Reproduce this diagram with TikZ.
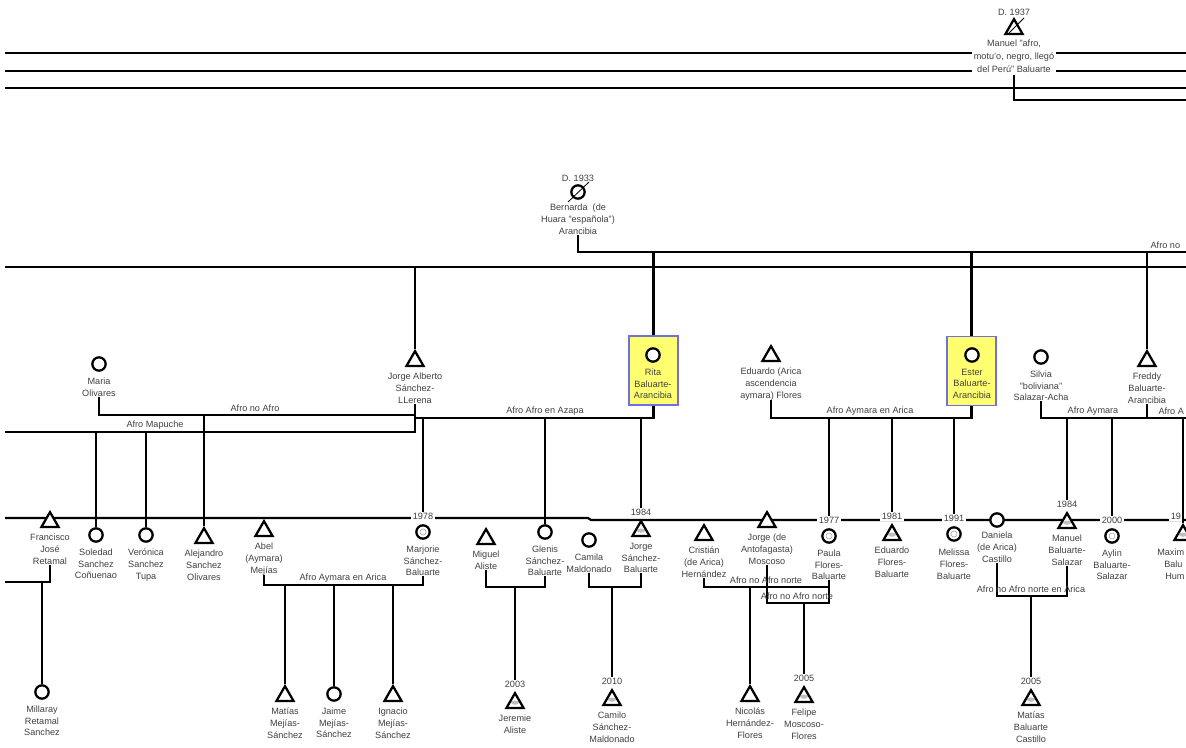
\documentclass[tikz,border=0pt]{standalone}
\usepackage{fontspec}
\setmainfont{Liberation Sans}
\usetikzlibrary{positioning,shapes.geometric}
\definecolor{hlfill}{RGB}{255,255,112}
\definecolor{hlline}{RGB}{112,112,230}

\begin{document}
\begin{tikzpicture}[x=0.025cm,y=-0.025cm,
    fem/.style={circle,draw,fill=white,line width=1.6pt,minimum size=9.5pt,inner sep=0pt},
    mal/.style={regular polygon,regular polygon sides=3,draw,fill=white,line width=1.6pt,minimum size=14pt,inner sep=0pt},
    agef/.style={fem,path picture={\draw[black!45,line width=.3pt] (path picture bounding box.center) circle[radius=2.2pt];}},
    agem/.style={mal,path picture={\fill[black!25] ([yshift=-1.5pt]path picture bounding box.center) ellipse[x radius=2.8pt,y radius=1.5pt];}},
    nm/.style={font=\fontsize{6.5}{8.4}\selectfont,align=center,inner sep=0pt,text=black!75},
    yr/.style={nm,fill=white,inner sep=1pt},
    ln/.style={line width=1.5pt},
    dead/.style={line width=.6pt},
    hl/.style={draw=hlline,fill=hlfill,line width=1pt,minimum width=1.22cm,minimum height=1.72cm,inner sep=0pt}]

    \useasboundingbox (0,0) rectangle (1186,748);
    \clip (0,0) rectangle (1186,748);

    % lines running off the sheet
    \draw[ln] (5,53) -- (1186,53);
    \draw[line width=1pt] (5,71) -- (1186,71);
    \draw[ln] (5,88) -- (1186,88);
    \draw[ln] (5,267) -- (1186,267);
    \draw[ln] (5,518) -- (588,518) -- (591,520) -- (1186,520);
    \coordinate (gen) at (5,267);
    \coordinate (mapW) at (5,432);

    % oldest generation
    \node[mal] (manu) at (1014,29) {};
    \node[nm,above=1pt] at (manu.north) {D. 1937};
    \node[nm,fill=white,inner sep=1.5pt,below=2pt,font=\fontsize{6.5}{9}\selectfont] (manuL) at (manu.south) {Manuel "afro,\\motu'o, negro, llegó\\del Perú" Baluarte};
    \node[fem] (bern) at (578,192) {};
    \node[nm,above=1.5pt] at (bern.north) {D. 1933};
    \node[nm,below=3pt] (bernL) at (bern.south) {Bernarda\ \ (de\\Huara "española")\\Arancibia};
    \draw[dead] (manu) ++(-5,4) -- ++(15,-15);
    \draw[dead] (bern) ++(-10,10) -- ++(21,-20);

    \coordinate (manE) at (1186,100);
    \coordinate (uBM) at (1186,252);
    \draw[ln] (manuL.south) |- (manE);
    \draw[ln] (bernL.south) |- (uBM);
    \node[nm,above left=2pt and 4pt] at (uBM) {Afro no};

    % middle generation
    \node[hl] (ritaB) at (653.5,370.5) {};
    \node[hl] (estB) at (971.5,371) {};
    \node[fem] (rita) at (653,355) {};
    \node[nm,below=4pt] (ritaL) at (rita.south) {Rita\\Baluarte-\\Arancibia};
    \node[fem] (est) at (972,355) {};
    \node[nm,below=4pt] (estL) at (est.south) {Ester\\Baluarte-\\Arancibia};
    \node[fem] (mar) at (99,364) {};
    \node[nm,below=4pt] (marL) at (mar.south) {Maria\\Olivares};
    \node[mal] (jalb) at (415,361) {};
    \node[nm,below=4pt] (jalbL) at (jalb.south) {Jorge Alberto\\Sánchez-\\LLerena};
    \node[mal] (edu) at (771,356) {};
    \node[nm,below=4pt] (eduL) at (edu.south) {Eduardo (Arica\\ascendencia\\aymara) Flores};
    \node[fem] (sil) at (1041,357) {};
    \node[nm,below=4pt] (silL) at (sil.south) {Silvia\\"boliviana"\\Salazar-Acha};
    \node[mal] (fred) at (1147,361) {};
    \node[nm,below=4pt] (fredL) at (fred.south) {Freddy\\Baluarte-\\Arancibia};

    \draw[ln] (uBM -| ritaB) -- (ritaB.north);
    \draw[ln] (uBM -| estB) -- (estB.north);
    \draw[ln] (uBM -| fred) -- (fred.north);
    \draw[ln] (gen -| jalb) -- (jalb.north);

    % unions of the middle generation
    \coordinate (uMJ) at (255,415);
    \coordinate (uMap) at (155,432);
    \coordinate (uAz) at (545,418);
    \coordinate (uEE) at (870,418);
    \coordinate (uSF) at (1093,418);
    \coordinate (uFR) at (1186,418);
    \draw[ln] (mar.south |- marL.south) |- (uMJ) -| (jalbL.south);
    \draw[ln] (mapW) -- (uMap) -| (jalbL.south);
    \draw[ln] (jalbL.south) |- (uAz) -| (ritaB.south);
    \draw[ln] (eduL.south) |- (uEE) -| (estB.south);
    \draw[ln] (silL.south) |- (uSF) -| (fredL.south);
    \draw[ln] (fredL.south) |- (uFR);
    \node[nm,above=2pt] at (uMJ) {Afro no Afro};
    \node[nm,above=2pt] at (uMap) {Afro Mapuche};
    \node[nm,above=2pt] at (uAz) {Afro Afro en Azapa};
    \node[nm,above=2pt] at (uEE) {Afro Aymara en Arica};
    \node[nm,above=2pt] at (uSF) {Afro Aymara};
    \node[nm,above right=2pt and 8pt] at (fredL.south |- uFR) {Afro A};

    % bottom generation
    \node[mal] (fra) at (50,522) {};
    \node[nm,below=4pt] (fraL) at (fra.south) {Francisco\\José\\Retamal};
    \node[fem] (sol) at (96,535) {};
    \node[nm,below=4pt] (solL) at (sol.south) {Soledad\\Sanchez\\Coñuenao};
    \node[fem] (ver) at (146,535) {};
    \node[nm,below=4pt] (verL) at (ver.south) {Verónica\\Sanchez\\Tupa};
    \node[mal] (alej) at (204,538) {};
    \node[nm,below=4pt] (alejL) at (alej.south) {Alejandro\\Sanchez\\Olivares};
    \node[mal] (abel) at (264,531) {};
    \node[nm,below=4pt] (abelL) at (abel.south) {Abel\\(Aymara)\\Mejías};
    \node[agef] (marj) at (423,532) {};
    \node[yr,above=2pt] (y78) at (marj.north) {1978};
    \node[nm,below=4pt] (marjL) at (marj.south) {Marjorie\\Sánchez-\\Baluarte};
    \node[mal] (mig) at (486,539) {};
    \node[nm,below=4pt] (migL) at (mig.south) {Miguel\\Aliste};
    \node[fem] (gle) at (545,532) {};
    \node[nm,below=4pt] (gleL) at (gle.south) {Glenis\\Sánchez-\\Baluarte};
    \node[fem] (cam) at (589,540) {};
    \node[nm,below=4pt] (camL) at (cam.south) {Camila\\Maldonado};
    \node[agem] (jsb) at (641,531) {};
    \node[yr,above=1pt] (y84) at (jsb.north) {1984};
    \node[nm,below=4pt] (jsbL) at (jsb.south) {Jorge\\Sánchez-\\Baluarte};
    \node[mal] (cri) at (704,535) {};
    \node[nm,below=4pt] (criL) at (cri.south) {Cristián\\(de Arica)\\Hernández};
    \node[mal] (jant) at (767,522) {};
    \node[nm,below=4pt] (jantL) at (jant.south) {Jorge (de\\Antofagasta)\\Moscoso};
    \node[agef] (pau) at (829,536) {};
    \node[yr,above=2pt] (y77) at (pau.north) {1977};
    \node[nm,below=4pt] (pauL) at (pau.south) {Paula\\Flores-\\Baluarte};
    \node[agem] (efb) at (892,535) {};
    \node[yr,above=1pt] (y81) at (efb.north) {1981};
    \node[nm,below=4pt] (efbL) at (efb.south) {Eduardo\\Flores-\\Baluarte};
    \node[agef] (mel) at (954,534) {};
    \node[yr,above=2pt] (y91) at (mel.north) {1991};
    \node[nm,below=5pt] (melL) at (mel.south) {Melissa\\Flores-\\Baluarte};
    \node[fem] (dan) at (997,520) {};
    \node[nm,below=3pt] (danL) at (dan.south) {Daniela\\(de Arica)\\Castillo};
    \node[agem] (mbs) at (1067,523) {};
    \node[yr,above=1pt] (y84b) at (mbs.north) {1984};
    \node[nm,below=4pt] (mbsL) at (mbs.south) {Manuel\\Baluarte-\\Salazar};
    \node[agef] (ayl) at (1112,536) {};
    \node[yr,above=2pt] (y00) at (ayl.north) {2000};
    \node[nm,below=4pt] (aylL) at (ayl.south) {Aylin\\Baluarte-\\Salazar};
    \node[agem] (maxi) at (1183,535) {};
    \node[nm,anchor=west] (maxiL) at (1157,552) {Maxim};
    \node[nm,anchor=west] at (1164,564) {Balu};
    \node[nm,anchor=west] at (1165,576) {Hum};

    \draw[ln] (uMap -| sol) -- (sol.north);
    \draw[ln] (uMap -| ver) -- (ver.north);
    \draw[ln] (uMJ -| alej) -- (alej.north);
    \draw[ln] (uAz -| y78) -- (y78.north);
    \draw[ln] (uAz -| gle) -- (gle.north);
    \draw[ln] (uAz -| y84) -- (y84.north);
    \draw[ln] (uEE -| y77) -- (y77.north);
    \draw[ln] (uEE -| y81) -- (y81.north);
    \draw[ln] (uEE -| y91) -- (y91.north);
    \draw[ln] (uSF -| y84b) -- (y84b.north);
    \draw[ln] (uSF -| y00) -- (y00.north);
    \draw[ln] (uFR -| maxi) -- (maxi.north);
    \node[yr,above=1pt,xshift=-5pt] (y19) at (maxi.north) {19};

    % grandchildren
    \node[fem] (mil) at (42,692) {};
    \node[nm,below=4pt] (milL) at (mil.south) {Millaray\\Retamal\\Sanchez};
    \node[mal] (mat) at (285,696) {};
    \node[nm,below=4pt] (matL) at (mat.south) {Matías\\Mejías-\\Sánchez};
    \node[fem] (jai) at (334,694) {};
    \node[nm,below=4pt] (jaiL) at (jai.south) {Jaime\\Mejías-\\Sánchez};
    \node[mal] (ign) at (393,696) {};
    \node[nm,below=4pt] (ignL) at (ign.south) {Ignacio\\Mejías-\\Sánchez};
    \node[agem] (jer) at (515,703) {};
    \node[yr,above=1pt] (y03) at (jer.north) {2003};
    \node[nm,below=4pt] (jerL) at (jer.south) {Jeremie\\Aliste};
    \node[agem] (cml) at (612,700) {};
    \node[yr,above=1pt] (y10) at (cml.north) {2010};
    \node[nm,below=4pt] (cmlL) at (cml.south) {Camilo\\Sánchez-\\Maldonado};
    \node[mal] (nic) at (750,696) {};
    \node[nm,below=4pt] (nicL) at (nic.south) {Nicolás\\Hernández-\\Flores};
    \node[agem] (fel) at (804,697) {};
    \node[yr,above=1pt] (y05a) at (fel.north) {2005};
    \node[nm,below=4pt] (felL) at (fel.south) {Felipe\\Moscoso-\\Flores};
    \node[agem] (mbc) at (1031,700) {};
    \node[yr,above=1pt] (y05b) at (mbc.north) {2005};
    \node[nm,below=4pt] (mbcL) at (mbc.south) {Matías\\Baluarte\\Castillo};

    % unions of the bottom generation
    \coordinate (uFr) at (5,582);
    \coordinate (uAM) at (343,585);
    \coordinate (uMG) at (515,587);
    \coordinate (uCJ) at (612,587);
    \coordinate (uCP) at (766,587);
    \coordinate (uJP) at (797,603);
    \coordinate (uDM) at (1031,596);
    \draw[ln] (fraL.south) |- (uFr);
    \draw[ln] (abelL.south) |- (uAM) -| (marjL.south);
    \draw[ln] (migL.south) |- (uMG) -| (gleL.south);
    \draw[ln] (camL.south) |- (uCJ) -| (jsbL.south);
    \draw[ln] (criL.south) |- (uCP) -| (pauL.south);
    \draw[ln] (jantL.south) |- (uJP) -| (pauL.south);
    \draw[ln] (danL.south) |- (uDM) -| (mbsL.south);
    \node[nm,above=2pt] at (uAM) {Afro Aymara en Arica};
    \node[nm,above=2pt] at (uCP) {Afro no Afro norte};
    \node[nm,above=2pt] at (uJP) {Afro no Afro norte};
    \node[nm,above=2pt] at (uDM) {Afro no Afro norte en Arica};

    \draw[ln] (uFr -| mil) -- (mil.north);
    \draw[ln] (uAM -| mat) -- (mat.north);
    \draw[ln] (uAM -| jai) -- (jai.north);
    \draw[ln] (uAM -| ign) -- (ign.north);
    \draw[ln] (uMG -| y03) -- (y03.north);
    \draw[ln] (uCJ -| y10) -- (y10.north);
    \draw[ln] (uCP -| nic) -- (nic.north);
    \draw[ln] (uJP -| y05a) -- (y05a.north);
    \draw[ln] (uDM -| y05b) -- (y05b.north);
\end{tikzpicture}
\end{document}
